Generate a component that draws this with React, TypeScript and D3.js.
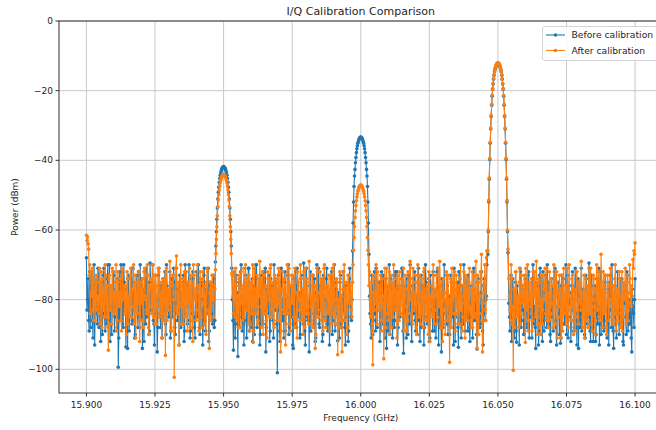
import React from "react";
import * as d3 from "d3";

const W = 656;
const H = 430;
const FONT = "DejaVu Sans, Verdana, sans-serif";
const BLUE = "#1f77b4";
const ORANGE = "#ff7f0e";

// Frequency axis (GHz) and power axis (dBm)
const xTicks = [15.9, 15.925, 15.95, 15.975, 16.0, 16.025, 16.05, 16.075, 16.1];
const yTicks = [0, -20, -40, -60, -80, -100];
const seriesNames = ["Before calibration", "After calibration"];

// Noise-floor segments: [start, end] frequency in GHz
const noiseRanges = [
  [15.9, 15.9468],
  [15.9532, 15.9968],
  [16.0032, 16.046],
  [16.054, 16.1],
];
// Tone peaks: centre frequencies and sample spacing (GHz)
const peakCenters = [15.95, 16.0, 16.05];
const peakStep = 0.000175;

// ---- Noise segment A (15.900 - 15.947): even samples and odd samples
const noiseABefore = [
  -68, -80, -86, -72, -88, -76, -91, -70, -83, -78,
  -87, -73, -81, -92, -75, -84, -71, -89, -79, -74,
  -86, -70, -82, -90, -77, -73, -85, -79, -88, -99.4,
  -72, -81, -76, -87, -70, -84, -93.6, -78, -74, -89,
  -80, -71, -86, -75, -91, -79, -73, -88, -82, -70,
  -85, -94, -77, -72, -87, -81, -75, -90, -69.5, -83,
  -78, -86, -93, -73, -80, -88, -71, -84, -76, -91,
  -74, -82, -87, -70, -79, -85, -72, -89, -77, -83,
  -75, -90, -71, -86, -80, -73, -88, -78, -84, -92,
  -70, -81, -87, -76, -74, -89, -79, -72, -85, -91,
  -77, -83, -70, -88, -75, -80, -93, -73, -86, -78,
  -82, -71, -89, -76, -84, -87, -74, -86,
];
const noiseABeforeOdd = [
  -83, -74, -89, -78, -72, -86, -80, -93, -75, -84,
  -71, -88, -77, -82, -90, -73, -85, -79, -87, -70,
  -81, -92, -76, -84, -72, -89, -78, -83, -74, -91,
  -86, -70, -80, -88, -75, -82, -77, -94, -73, -85,
  -79, -87, -71, -83, -90, -76, -84, -72, -88, -80,
  -74, -86, -92, -78, -71, -85, -81, -89, -75, -83,
  -70, -87, -79, -84, -95, -73, -82, -88, -77, -80,
  -86, -72, -90, -76, -83, -79, -91, -74, -85, -71,
  -88, -81, -77, -84, -93, -75, -80, -87, -73, -89,
  -82, -76, -86, -70, -91, -78, -84, -74, -88, -80,
  -72, -85, -79, -90, -76, -83, -87, -71, -89, -77,
  -84, -92, -75, -81, -86, -73, -88,
];
const noiseAAfter = [
  -61.5, -62, -65.5, -70, -78, -72, -83, -75, -86, -73,
  -79, -84, -71, -77, -88, -74, -81, -70, -85, -76,
  -94.5, -73, -80, -87, -72, -78, -83, -70, -86, -75,
  -82, -74, -89, -71, -79, -84, -76, -72, -87, -80,
  -73, -85, -77, -70, -83, -91, -75, -81, -72, -86,
  -78, -74, -88, -71, -80, -84, -73, -90, -76, -82,
  -70, -85, -77, -73, -87, -79, -72, -84, -75, -81,
  -86, -74, -96, -71, -80, -83, -69, -88, -76, -73,
  -102.3, -78, -67.5, -84, -75, -81, -70, -87, -74, -79,
  -85, -72, -89, -77, -71, -83, -76, -92, -73, -80,
  -86, -70, -78, -84, -74, -88, -72, -81, -76, -90,
  -71, -83, -94, -75, -79, -73, -85, -77,
];
const noiseAAfterOdd = [
  -63, -64, -73, -84, -79, -71, -86, -78, -74, -83,
  -80, -75, -87, -72, -82, -77, -85, -73, -79, -88,
  -74, -83, -76, -71, -84, -80, -75, -89, -72, -81,
  -78, -86, -73, -80, -76, -83, -90, -74, -79, -85,
  -71, -82, -77, -87, -73, -80, -84, -76, -92, -75,
  -81, -86, -72, -79, -83, -70, -88, -77, -74, -84,
  -80, -73, -87, -76, -82, -71, -85, -79, -91, -74,
  -78, -84, -72, -86, -77, -81, -75, -89, -73, -80,
  -85, -71, -83, -78, -93, -74, -82, -76, -87, -72,
  -79, -84, -75, -81, -88, -73, -86, -70, -80, -77,
  -83, -76, -89, -72, -85, -79, -74, -87, -81, -75,
  -72, -84, -78, -86, -73, -80, -76,
];

// ---- Peak 1 (15.950 GHz)
const peak1Before = [
  -69.2, -64.6, -60.5, -56.9, -53.7, -51.1, -49.2, -47.7, -46.3, -45.2,
  -44.3, -43.6, -43.1, -42.6, -42.3, -42.0, -41.9, -41.8, -41.9, -42.0,
  -42.3, -42.6, -43.1, -43.6, -44.3, -45.2, -46.3, -47.7, -49.2, -51.1,
  -53.7, -56.9, -60.5, -64.6, -71.0,
];
const peak1After = [
  -71.4, -66.8, -62.7, -59.1, -55.9, -53.3, -51.4, -49.9, -48.5, -47.4,
  -46.5, -45.8, -45.3, -44.8, -44.5, -44.2, -44.1, -44.0, -44.1, -44.2,
  -44.5, -44.8, -45.3, -45.8, -46.5, -47.4, -48.5, -49.9, -51.4, -53.3,
  -55.9, -59.1, -62.7, -66.8, -72.5,
];

// ---- Noise segment B (15.953 - 15.997)
const noiseBBefore = [
  -80, -94.5, -72, -87, -78, -96.3, -75, -83, -70, -89,
  -77, -86, -73, -91, -79, -71, -84, -88, -74, -81,
  -90, -76, -70, -85, -79, -93, -73, -82, -87, -75,
  -71, -88, -78, -84, -92, -74, -80, -86, -70, -83,
  -77, -101, -73, -89, -81, -75, -86, -91, -72, -79,
  -84, -70, -88, -76, -82, -93, -74, -87, -79, -71,
  -85, -78, -90, -73, -83, -69.5, -89, -76, -81, -86,
  -95, -72, -84, -79, -88, -74, -91, -70, -82, -87,
  -76, -83, -92, -73, -80, -86, -71, -89, -78, -84,
  -74, -90, -81, -70, -87, -77, -91.8, -83, -75, -88,
  -79, -72, -86, -93, -76, -82, -89, -71, -85, -80,
];
const noiseBBeforeOdd = [
  -86, -77, -91, -73, -84, -80, -88, -72, -85, -79,
  -93, -75, -82, -87, -71, -89, -78, -84, -92, -76,
  -83, -70, -88, -81, -74, -90, -79, -86, -72, -84,
  -95, -77, -82, -73, -89, -85, -76, -91, -80, -74,
  -87, -83, -78, -92, -71, -86, -80, -75, -89, -84,
  -73, -90, -79, -85, -77, -94, -82, -72, -88, -76,
  -84, -91, -74, -80, -87, -78, -93, -71, -85, -83,
  -76, -89, -80, -73, -86, -92, -78, -84, -71, -88,
  -82, -75, -90, -79, -85, -74, -87, -81, -93, -77,
  -72, -86, -80, -89, -75, -84, -78, -91, -73, -87,
  -83, -79, -88, -76, -85, -92, -74, -81, -86,
];
const noiseBAfter = [
  -73, -84, -77, -71, -86, -79, -74, -88, -72, -81,
  -76, -85, -70, -83, -78, -73, -89, -75, -80, -92.3,
  -71, -84, -77, -87, -74, -69, -82, -76, -90, -73,
  -80, -86, -72, -78, -85, -70, -83, -75, -88, -79,
  -74, -81, -71, -86, -95, -77, -72, -84, -79, -87,
  -70, -82, -76, -89, -73, -80, -85, -71, -78, -91,
  -75, -83, -70, -86, -77, -72, -88, -80, -74, -84,
  -69, -79, -87, -73, -82, -76, -90, -71, -85, -78,
  -72, -86, -75, -81, -70, -88, -77, -83, -73, -89,
  -79, -71, -84, -76, -87, -74, -95.8, -80, -72, -86,
  -95, -77, -70, -83, -75, -88, -73, -81, -78, -85,
];
const noiseBAfterOdd = [
  -79, -72, -85, -76, -82, -88, -73, -80, -77, -86,
  -71, -83, -78, -74, -87, -81, -75, -84, -70, -89,
  -77, -82, -73, -86, -79, -75, -88, -72, -81, -84,
  -76, -91, -74, -80, -71, -85, -78, -87, -73, -82,
  -86, -75, -80, -72, -89, -77, -83, -74, -93, -79,
  -84, -71, -87, -76, -81, -73, -88, -78, -85, -72,
  -80, -86, -74, -83, -90, -77, -71, -84, -79, -87,
  -75, -82, -73, -88, -76, -94, -80, -72, -85, -78,
  -83, -74, -89, -71, -86, -79, -76, -84, -81, -73,
  -87, -78, -70, -85, -80, -75, -82, -88, -74, -79,
  -84, -72, -86, -77, -90, -73, -81, -76, -83,
];

// ---- Peak 2 (16.000 GHz)
const peak2Before = [
  -66.0, -58.0, -52.0, -47.5, -44.5, -42.6, -40.7, -39.2, -37.8, -36.7,
  -35.8, -35.1, -34.6, -34.1, -33.8, -33.5, -33.4, -33.3, -33.4, -33.5,
  -33.8, -34.1, -34.6, -35.1, -35.8, -36.7, -37.8, -39.2, -40.7, -42.6,
  -44.5, -47.5, -52.0, -58.0, -67.0,
];
const peak2After = [
  -75.0, -70.0, -65.8, -62.2, -59.0, -56.4, -54.5, -53.0, -51.6, -50.5,
  -49.6, -48.9, -48.4, -47.9, -47.6, -47.3, -47.2, -47.1, -47.2, -47.3,
  -47.6, -47.9, -48.4, -48.9, -49.6, -50.5, -51.6, -53.0, -54.5, -56.4,
  -59.0, -62.2, -65.8, -70.0, -76.0,
];

// ---- Noise segment C (16.003 - 16.046)
const noiseCBefore = [
  -79, -87, -73, -90, -76, -84, -71, -88, -80, -75,
  -86, -72, -83, -78, -91, -74, -82, -89, -70, -85,
  -77, -91, -73, -86, -80, -72, -88, -76, -84, -79,
  -71, -95.4, -78, -83, -74, -90, -81, -70, -87, -76,
  -84, -72, -89, -79, -75, -86, -92, -73, -82, -77,
  -88, -70, -85, -80, -74, -91, -76, -83, -72, -89,
  -78, -86, -71, -93, -79, -84, -74, -88, -70, -82,
  -87, -76, -81, -90, -73, -85, -78, -71, -92, -80,
  -75, -93.7, -72, -86, -79, -83, -70, -89, -77, -84,
  -73, -88, -81, -76, -91, -71, -85, -79, -94.2, -74,
  -82, -87, -72, -89, -76, -84, -80, -70,
];
const noiseCBeforeOdd = [
  -84, -91, -77, -86, -72, -89, -80, -83, -75, -92,
  -79, -87, -73, -85, -81, -94, -76, -84, -90, -74,
  -86, -80, -88, -72, -83, -93, -77, -85, -79, -71,
  -89, -82, -76, -91, -84, -73, -87, -80, -92, -78,
  -74, -86, -83, -90, -71, -85, -79, -88, -76, -93,
  -81, -75, -87, -84, -92, -73, -80, -89, -77, -85,
  -91, -72, -83, -78, -88, -95, -76, -84, -81, -87,
  -73, -90, -79, -86, -75, -82, -93, -77, -85, -80,
  -88, -72, -84, -91, -76, -87, -79, -83, -74, -89,
  -81, -92, -77, -85, -72, -86, -80, -90, -75, -84,
  -88, -78, -83, -93, -74, -86, -79,
];
const noiseCAfter = [
  -72, -85, -78, -98.7, -74, -81, -70, -87, -76, -83,
  -73, -89, -79, -97, -71, -84, -77, -86, -72, -80,
  -88, -75, -70, -83, -78, -91, -73, -86, -80, -74,
  -85, -71, -82, -77, -89, -72, -84, -69, -79, -87,
  -75, -81, -73, -90, -70, -85, -78, -83, -74, -88,
  -71, -80, -86, -76, -72, -92, -79, -84, -70, -87,
  -77, -73, -85, -81, -69, -88, -75, -83, -78, -90,
  -72, -86, -80, -98, -74, -71, -84, -77, -89, -73,
  -82, -76, -87, -70, -79, -85, -72, -91, -78, -74,
  -86, -71, -83, -77, -88, -73, -80, -69, -94, -75,
  -84, -72, -67, -95, -78, -70, -86, -66,
];
const noiseCAfterOdd = [
  -80, -75, -87, -73, -83, -78, -85, -72, -81, -77,
  -86, -74, -82, -79, -88, -71, -84, -76, -90, -73,
  -79, -85, -77, -81, -74, -87, -80, -72, -84, -78,
  -75, -89, -73, -82, -86, -76, -80, -74, -85, -71,
  -83, -78, -88, -75, -81, -73, -87, -79, -84, -72,
  -86, -77, -81, -90, -74, -80, -76, -85, -73, -83,
  -79, -87, -71, -82, -76, -84, -92, -74, -80, -86,
  -78, -73, -85, -81, -88, -75, -79, -72, -84, -77,
  -87, -80, -74, -83, -89, -76, -81, -73, -86, -79,
  -75, -82, -88, -72, -80, -85, -77, -84, -73, -90,
  -79, -74, -86, -81, -76, -83, -68,
];

// ---- Peak 3 (16.050 GHz)
const peak3Before = [
  -67.0, -60.5, -52.0, -45.4, -39.8, -35.1, -31.0, -27.4, -24.2, -21.6,
  -19.6, -18.1, -16.7, -15.6, -14.6, -13.9, -13.4, -12.9, -12.6, -12.3,
  -12.2, -12.1, -12.2, -12.3, -12.6, -12.9, -13.4, -13.9, -14.6, -15.6,
  -16.7, -18.1, -19.6, -21.6, -24.2, -27.4, -31.0, -35.1, -39.8, -45.4,
  -52.0, -60.5, -66.5,
];
const peak3After = [
  -66.0, -60.0, -51.5, -45.0, -39.4, -34.8, -30.7, -27.1, -23.9, -21.3,
  -19.4, -17.9, -16.5, -15.4, -14.5, -13.8, -13.25, -12.8, -12.45, -12.2,
  -12.06, -12.0, -12.06, -12.2, -12.45, -12.8, -13.25, -13.8, -14.5, -15.4,
  -16.5, -17.9, -19.4, -21.3, -23.9, -27.1, -30.7, -34.8, -39.4, -45.0,
  -51.5, -60.0, -65.5,
];

// ---- Noise segment D (16.054 - 16.100)
const noiseDBefore = [
  -81, -89, -73, -86, -77, -91, -75, -92.2, -79, -84,
  -71, -88, -76, -83, -90, -74, -80, -87, -72, -85,
  -78, -91, -70, -84, -88, -75, -81, -93, -73, -86,
  -79, -72, -89, -76, -83, -70, -87, -80, -92, -74,
  -85, -78, -71, -88, -82, -75, -90, -92.5, -73, -84,
  -79, -87, -70, -83, -91, -76, -81, -86, -72, -89,
  -77, -84, -93, -74, -80, -88, -71, -85, -78, -90,
  -73, -86, -81, -69.5, -89, -76, -83, -92, -79, -92,
  -74, -87, -71, -84, -90, -77, -82, -88, -73, -86,
  -80, -93, -75, -83, -70, -89, -78, -85, -91, -72,
  -84, -79, -88, -74, -92, -81, -76, -90, -73, -87,
  -85, -78, -95, -82, -88, -74,
];
const noiseDBeforeOdd = [
  -85, -78, -92, -74, -87, -81, -89, -76, -84, -93,
  -72, -86, -80, -90, -77, -83, -88, -73, -91, -79,
  -85, -74, -87, -82, -94, -76, -80, -89, -71, -84,
  -92, -78, -86, -73, -88, -81, -75, -90, -83, -77,
  -89, -72, -86, -93, -79, -84, -76, -91, -80, -74,
  -87, -82, -90, -73, -85, -78, -92, -76, -83, -88,
  -71, -86, -80, -94, -75, -84, -89, -77, -82, -91,
  -74, -87, -79, -85, -92, -73, -88, -81, -76, -90,
  -84, -78, -93, -72, -86, -80, -89, -75, -83, -91,
  -77, -85, -73, -88, -82, -94, -76, -87, -79, -84,
  -90, -74, -86, -81, -93, -78, -85, -72, -89, -80,
  -87, -91, -77, -84, -80,
];
const noiseDAfter = [
  -74, -83, -70, -87, -100.3, -77, -72, -85, -79, -88,
  -71, -84, -76, -81, -73, -92.3, -78, -70, -86, -75,
  -82, -89, -72, -79, -85, -69, -87, -74, -80, -90,
  -73, -83, -77, -71, -86, -79, -88, -72, -84, -76,
  -81, -70, -87, -75, -91, -78, -73, -85, -80, -89,
  -71, -84, -76, -82, -88, -70, -79, -86, -73, -90,
  -77, -83, -72, -87, -75, -81, -69, -85, -78, -91,
  -74, -80, -88, -71, -84, -77, -89, -73, -82, -86,
  -70, -79, -85, -75, -67, -88, -72, -83, -78, -90,
  -73, -86, -80, -71, -87, -76, -84, -70, -89, -77,
  -82, -74, -88, -72, -85, -79, -71, -87, -75, -83,
  -70, -81, -76, -68.5, -66, -63.7,
];
const noiseDAfterOdd = [
  -79, -86, -74, -82, -77, -88, -72, -84, -80, -75,
  -87, -73, -81, -78, -85, -71, -83, -89, -76, -80,
  -74, -86, -79, -72, -84, -77, -90, -75, -82, -73,
  -87, -80, -76, -84, -71, -83, -78, -86, -74, -81,
  -88, -75, -79, -72, -85, -82, -77, -91, -73, -80,
  -84, -76, -87, -71, -83, -79, -86, -74, -81, -77,
  -89, -72, -85, -80, -75, -83, -78, -88, -73, -82,
  -86, -76, -79, -84, -71, -87, -80, -74, -90, -77,
  -83, -72, -81, -86, -75, -79, -84, -73, -88, -80,
  -76, -82, -71, -85, -78, -87, -74, -81, -77, -86,
  -72, -84, -79, -89, -75, -80, -83, -73, -86, -78,
  -74, -82, -79, -71, -67,
];

type Pt = [number, number];

function interleave(even: number[], odd: number[]): number[] {
  const out: number[] = [];
  for (let i = 0; i < even.length; i++) {
    out.push(even[i]);
    if (i < odd.length && i < even.length - 1) out.push(odd[i]);
  }
  return out;
}
function noisePoints(range: number[], vals: number[]): Pt[] {
  const [a, b] = range;
  const n = vals.length;
  return vals.map((v, i) => [a + ((b - a) * i) / (n - 1), v] as Pt);
}
function peakPoints(center: number, vals: number[]): Pt[] {
  const half = (vals.length - 1) / 2;
  return vals.map((v, i) => [center + (i - half) * peakStep, v] as Pt);
}
function buildSeries(noise: number[][], peaks: number[][]): Pt[] {
  const pts: Pt[] = [];
  for (let s = 0; s < noise.length; s++) {
    pts.push(...noisePoints(noiseRanges[s], noise[s]));
    if (s < peaks.length) pts.push(...peakPoints(peakCenters[s], peaks[s]));
  }
  return pts;
}

const beforeData = buildSeries(
  [
    interleave(noiseABefore, noiseABeforeOdd),
    interleave(noiseBBefore, noiseBBeforeOdd),
    interleave(noiseCBefore, noiseCBeforeOdd),
    interleave(noiseDBefore, noiseDBeforeOdd),
  ],
  [peak1Before, peak2Before, peak3Before]
);
const afterData = buildSeries(
  [
    interleave(noiseAAfter, noiseAAfterOdd),
    interleave(noiseBAfter, noiseBAfterOdd),
    interleave(noiseCAfter, noiseCAfterOdd),
    interleave(noiseDAfter, noiseDAfterOdd),
  ],
  [peak1After, peak2After, peak3After]
);

const left = 59;
const right = 662.5;
const top = 21;
const bottom = 393;

export default function App() {
  const x = d3.scaleLinear().domain([15.89, 16.11]).range([left, right]);
  const y = d3.scaleLinear().domain([-106.8, 0]).range([bottom, top]);
  const line = d3
    .line<Pt>()
    .x((d) => x(d[0]))
    .y((d) => y(d[1]));

  const fmtX = d3.format(".3f");
  const fmtY = (v: number) => (v < 0 ? "\u2212" + Math.abs(v) : String(v));

  const series = [
    { data: beforeData, color: BLUE },
    { data: afterData, color: ORANGE },
  ];

  return (
    <svg
      width={W}
      height={H}
      style={{ position: "absolute", left: 0, top: 0, background: "#fff" }}
      fontFamily={FONT}
    >
      <rect x={0} y={0} width={W} height={H} fill="#fff" />
      <defs>
        <clipPath id="plotclip">
          <rect x={left} y={top} width={right - left} height={bottom - top} />
        </clipPath>
      </defs>
      {/* grid */}
      <g stroke="#c9c9c9" strokeWidth={1}>
        {xTicks.map((t) => (
          <line key={"gx" + t} x1={x(t)} x2={x(t)} y1={top} y2={bottom} />
        ))}
        {yTicks.map((t) => (
          <line key={"gy" + t} x1={left} x2={right} y1={y(t)} y2={y(t)} />
        ))}
      </g>
      {/* data */}
      <g clipPath="url(#plotclip)">
        {series.map((s, si) => (
          <g key={si}>
            <path d={line(s.data) || ""} fill="none" stroke={s.color} strokeWidth={1.1} />
            {s.data.map((d, i) => (
              <circle key={i} cx={x(d[0])} cy={y(d[1])} r={1.8} fill={s.color} />
            ))}
          </g>
        ))}
      </g>
      {/* spines */}
      <g stroke="#333" strokeWidth={1} fill="none">
        <rect x={left} y={top} width={right - left} height={bottom - top} />
      </g>
      {/* ticks */}
      <g fontSize={9} fill="#262626">
        {xTicks.map((t) => (
          <g key={"xt" + t}>
            <line x1={x(t)} x2={x(t)} y1={bottom} y2={bottom + 3.5} stroke="#333" />
            <text x={x(t)} y={bottom + 15} textAnchor="middle">
              {fmtX(t)}
            </text>
          </g>
        ))}
        {yTicks.map((t) => (
          <g key={"yt" + t}>
            <line x1={left - 3.5} x2={left} y1={y(t)} y2={y(t)} stroke="#333" />
            <text x={left - 6} y={y(t)} dy="0.34em" textAnchor="end">
              {fmtY(t)}
            </text>
          </g>
        ))}
      </g>
      {/* labels */}
      <text x={(left + right) / 2} y={14.5} textAnchor="middle" fontSize={11} fill="#262626">
        I/Q Calibration Comparison
      </text>
      <text x={(left + right) / 2} y={421} textAnchor="middle" fontSize={9} fill="#262626">
        Frequency (GHz)
      </text>
      <text
        transform={`translate(18,${(top + bottom) / 2}) rotate(-90)`}
        textAnchor="middle"
        fontSize={9}
        fill="#262626"
      >
        Power (dBm)
      </text>
      {/* legend */}
      <g>
        <rect
          x={542.5}
          y={26.5}
          width={140}
          height={34}
          rx={2.5}
          fill="#fff"
          fillOpacity={0.85}
          stroke="#d4d4d4"
        />
        {seriesNames.map((name, i) => {
          const ly = 35 + i * 15.5;
          const c = i === 0 ? BLUE : ORANGE;
          return (
            <g key={name}>
              <line x1={546} x2={565} y1={ly} y2={ly} stroke={c} strokeWidth={1.1} />
              <circle cx={555.5} cy={ly} r={1.8} fill={c} />
              <text x={571.5} y={ly} dy="0.35em" fontSize={9.2} fill="#262626">
                {name}
              </text>
            </g>
          );
        })}
      </g>
    </svg>
  );
}
